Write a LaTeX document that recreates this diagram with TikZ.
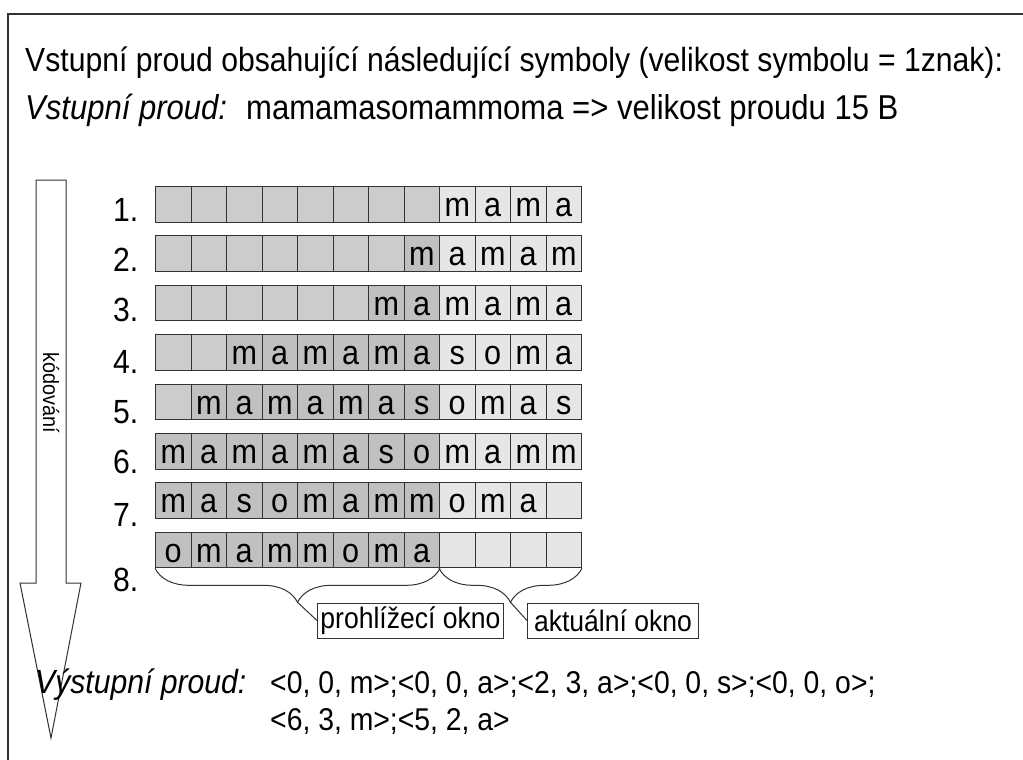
\documentclass[tikz,border=0pt]{standalone}
\usepackage{fontspec}
\setmainfont{Liberation Sans}[FakeStretch=0.9]
\usetikzlibrary{decorations.pathreplacing,calc}
\definecolor{colE}{HTML}{CCCCCC}
\definecolor{colS}{HTML}{C0C0C0}
\definecolor{colL}{HTML}{E6E6E6}
\definecolor{linec}{HTML}{333333}
\tikzset{
  cell/.style={draw=linec, line width=1pt, minimum width=35.5pt, minimum height=35.5pt,
    inner sep=0pt, anchor=north west, text height=24.5pt, text depth=0pt,
    font=\fontsize{34}{40}\selectfont},
  bigtext/.style={inner sep=0pt, anchor=base west, font=\fontsize{33.5}{40}\selectfont},
  rowlab/.style={inner sep=0pt, anchor=west, font=\fontsize{33.5}{40}\selectfont},
  winlab/.style={draw=linec, line width=1pt, inner sep=0pt, minimum height=35pt,
    anchor=west, font=\fontsize{29.5}{34}\selectfont},
  bracestyle/.style={draw=linec, line width=1pt,
    decorate, decoration={brace, mirror, amplitude=34pt}},
  conn/.style={draw=linec, line width=1pt},
}
\newcommand\cellrow[2]{%
  \foreach \t/\ch [count=\i] in {#2} {%
    \node[cell, fill=col\t] (c#1-\i) at ({155+35.5*(\i-1)}, {186+49.4*(#1-1)}) {\ch};
  }%
}
\begin{document}
\begin{tikzpicture}[x=1pt,y=-1pt]
\useasboundingbox (0,0) rectangle (1023,760);
% frame
\draw[linec, line width=1.2pt] (8,760) -- (8,14) -- (1023,14);
% heading
\node[bigtext] (h1) at (25,72) {Vstupní proud obsahující následující symboly (velikost symbolu = 1znak):};
\node[bigtext, font=\fontsize{34.5}{40}\selectfont] (h2a) at (25,119) {\itshape Vstupní proud:};
\node[bigtext, font=\fontsize{34.5}{40}\selectfont] (h2b) at (246,119) {mamamasomammoma => velikost proudu 15 B};
% coding arrow
\draw[linec, line width=1pt, fill=white] (36,180) -- (66,180) -- (66,583) -- (81,583)
  -- (51,738) -- (20,583) -- (36,583) -- cycle;
\node[inner sep=0pt, rotate=-90, font=\fontsize{22}{26}\selectfont] (kod) at (51,393) {kódování};
% rows
\cellrow{1}{E/{},E/{},E/{},E/{},E/{},E/{},E/{},E/{},L/m,L/a,L/m,L/a}
\cellrow{2}{E/{},E/{},E/{},E/{},E/{},E/{},E/{},S/m,L/a,L/m,L/a,L/m}
\cellrow{3}{E/{},E/{},E/{},E/{},E/{},E/{},S/m,S/a,L/m,L/a,L/m,L/a}
\cellrow{4}{E/{},E/{},S/m,S/a,S/m,S/a,S/m,S/a,L/s,L/o,L/m,L/a}
\cellrow{5}{E/{},S/m,S/a,S/m,S/a,S/m,S/a,S/s,L/o,L/m,L/a,L/s}
\cellrow{6}{S/m,S/a,S/m,S/a,S/m,S/a,S/s,S/o,L/m,L/a,L/m,L/m}
\cellrow{7}{S/m,S/a,S/s,S/o,S/m,S/a,S/m,S/m,L/o,L/m,L/a,L/{}}
\cellrow{8}{S/o,S/m,S/a,S/m,S/m,S/o,S/m,S/a,L/{},L/{},L/{},L/{}}
% row labels
\foreach \n/\yy in {1/210,2/260,3/310,4/362,5/412,6/462,7/515,8/580}
  \node[rowlab] (lab\n) at (113,\yy) {\n.};
% braces
\draw[bracestyle] (c8-1.south west) -- (c8-8.south east);
\draw[bracestyle] (c8-9.south west) -- (c8-12.south east);
\coordinate (tipA) at ($(c8-1.south west)!0.5!(c8-8.south east)+(0,34)$);
\coordinate (tipB) at ($(c8-9.south west)!0.5!(c8-12.south east)+(0,34)$);
\node[winlab, minimum width=186pt] (win1) at (317,620.5) {prohlížecí okno};
\node[winlab, minimum width=171pt] (win2) at (527,620.5) {aktuální okno};
\draw[conn] (tipA) -- (win1.west);
\draw[conn] (tipB) -- (win2.west);
% output
\node[bigtext] (o1) at (35,693) {\itshape Výstupní proud:};
\node[bigtext, font=\fontsize{31.5}{38}\selectfont] (o2) at (270,693) {<0, 0, m>;<0, 0, a>;<2, 3, a>;<0, 0, s>;<0, 0, o>;};
\node[bigtext, font=\fontsize{31.5}{38}\selectfont] (o3) at (270,730) {<6, 3, m>;<5, 2, a>};
\end{tikzpicture}
\end{document}
